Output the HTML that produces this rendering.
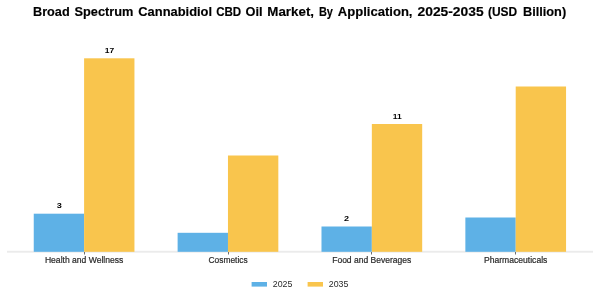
<!DOCTYPE html>
<html><head><meta charset="utf-8">
<style>
html,body{margin:0;padding:0;background:#fff;width:600px;height:300px;overflow:hidden}
svg{display:block}
text{font-family:"Liberation Sans",sans-serif}
svg{will-change:transform}
</style></head><body>
<svg width="600" height="300" viewBox="0 0 600 300">
<rect x="0" y="0" width="600" height="300" fill="#fff"/>
<rect x="7" y="250.8" width="586" height="1.9" fill="#ebebeb"/>
<rect x="33.75" y="213.7" width="50.35" height="38.10" fill="#5EB1E6"/>
<rect x="177.62" y="232.8" width="50.35" height="19.00" fill="#5EB1E6"/>
<rect x="321.49" y="226.5" width="50.35" height="25.30" fill="#5EB1E6"/>
<rect x="465.36" y="217.5" width="50.35" height="34.30" fill="#5EB1E6"/>
<rect x="84.10" y="58.3" width="50.35" height="193.50" fill="#F9C54D"/>
<rect x="227.97" y="155.5" width="50.35" height="96.30" fill="#F9C54D"/>
<rect x="371.84" y="124" width="50.35" height="127.80" fill="#F9C54D"/>
<rect x="515.71" y="86.5" width="50.35" height="165.30" fill="#F9C54D"/>
<rect x="84.1" y="252" width="0.85" height="2.5" fill="#555"/>
<rect x="228.1" y="252" width="0.85" height="2.5" fill="#555"/>
<rect x="371.1" y="252" width="0.85" height="2.5" fill="#555"/>
<rect x="515.1" y="252" width="0.85" height="2.5" fill="#555"/>
<rect x="251.6" y="282" width="15.4" height="4.6" fill="#5EB1E6"/>
<rect x="307.6" y="282" width="15.4" height="4.6" fill="#F9C54D"/>
<text id="t0" x="32.97" y="16.00" font-size="12" font-weight="bold" fill="#000" stroke="#000" stroke-width="0.15" textLength="36.68" lengthAdjust="spacingAndGlyphs">Broad</text>
<text id="t1" x="74.54" y="16.00" font-size="12" font-weight="bold" fill="#000" stroke="#000" stroke-width="0.15" textLength="58.91" lengthAdjust="spacingAndGlyphs">Spectrum</text>
<text id="t2" x="138.31" y="16.00" font-size="12" font-weight="bold" fill="#000" stroke="#000" stroke-width="0.15" textLength="73.76" lengthAdjust="spacingAndGlyphs">Cannabidiol</text>
<text id="t3" x="216.15" y="16.00" font-size="12" font-weight="bold" fill="#000" stroke="#000" stroke-width="0.15" textLength="25.08" lengthAdjust="spacingAndGlyphs">CBD</text>
<text id="t4" x="245.64" y="16.00" font-size="12" font-weight="bold" fill="#000" stroke="#000" stroke-width="0.15" textLength="17.06" lengthAdjust="spacingAndGlyphs">Oil</text>
<text id="t5" x="267.34" y="16.00" font-size="12" font-weight="bold" fill="#000" stroke="#000" stroke-width="0.15" textLength="46.73" lengthAdjust="spacingAndGlyphs">Market,</text>
<text id="t6" x="318.88" y="16.00" font-size="12" font-weight="bold" fill="#000" stroke="#000" stroke-width="0.15" textLength="14.01" lengthAdjust="spacingAndGlyphs">By</text>
<text id="t7" x="337.83" y="16.00" font-size="12" font-weight="bold" fill="#000" stroke="#000" stroke-width="0.15" textLength="74.65" lengthAdjust="spacingAndGlyphs">Application,</text>
<text id="t8" x="417.52" y="16.00" font-size="12" font-weight="bold" fill="#000" stroke="#000" stroke-width="0.15" textLength="66.11" lengthAdjust="spacingAndGlyphs">2025-2035</text>
<text id="t9" x="487.91" y="16.00" font-size="12" font-weight="bold" fill="#000" stroke="#000" stroke-width="0.15" textLength="29.22" lengthAdjust="spacingAndGlyphs">(USD</text>
<text id="t10" x="522.94" y="16.00" font-size="12" font-weight="bold" fill="#000" stroke="#000" stroke-width="0.15" textLength="43.21" lengthAdjust="spacingAndGlyphs">Billion)</text>
<text id="t11" x="44.92" y="262.90" font-size="8.5" fill="#2a2a2a" stroke="#2a2a2a" stroke-width="0.2" textLength="78.48" lengthAdjust="spacingAndGlyphs">Health and Wellness</text>
<text id="t12" x="208.50" y="262.90" font-size="8.5" fill="#2a2a2a" stroke="#2a2a2a" stroke-width="0.2" textLength="39.17" lengthAdjust="spacingAndGlyphs">Cosmetics</text>
<text id="t13" x="332.20" y="262.90" font-size="8.5" fill="#2a2a2a" stroke="#2a2a2a" stroke-width="0.2" textLength="79.12" lengthAdjust="spacingAndGlyphs">Food and Beverages</text>
<text id="t14" x="483.95" y="262.90" font-size="8.5" fill="#2a2a2a" stroke="#2a2a2a" stroke-width="0.2" textLength="63.44" lengthAdjust="spacingAndGlyphs">Pharmaceuticals</text>
<text id="t15" x="56.73" y="208.00" font-size="7" font-weight="bold" fill="#000" textLength="5.10" lengthAdjust="spacingAndGlyphs">3</text>
<text id="t16" x="104.85" y="53.00" font-size="7" font-weight="bold" fill="#000" textLength="9.46" lengthAdjust="spacingAndGlyphs">17</text>
<text id="t17" x="344.06" y="220.90" font-size="7" font-weight="bold" fill="#000" textLength="5.05" lengthAdjust="spacingAndGlyphs">2</text>
<text id="t18" x="392.67" y="118.70" font-size="7" font-weight="bold" fill="#000" textLength="8.94" lengthAdjust="spacingAndGlyphs">11</text>
<text id="t19" x="272.81" y="286.80" font-size="8.2" fill="#2a2a2a" textLength="19.64" lengthAdjust="spacingAndGlyphs">2025</text>
<text id="t20" x="328.81" y="286.80" font-size="8.2" fill="#2a2a2a" textLength="19.64" lengthAdjust="spacingAndGlyphs">2035</text>
</svg>
</body></html>
